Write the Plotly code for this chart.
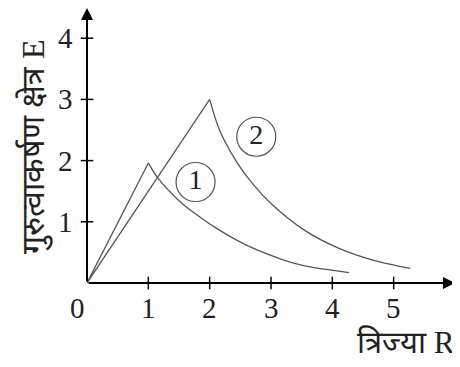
import plotly.graph_objects as go

# curve 1: rise then fall
r1_rise = [0, 1.0]
e1_rise = [0, 1.96]
r1_fall = [1.0, 1.16, 1.55, 1.88, 2.1, 2.44, 2.66, 3.0, 3.22, 3.55, 4.27]
e1_fall = [1.96, 1.71, 1.30, 1.05, 0.90, 0.70, 0.59, 0.45, 0.37, 0.28, 0.17]

# curve 2: rise then fall
r2_rise = [0, 2.0]
e2_rise = [0, 3.0]
r2_fall = [2.0, 2.16, 2.44, 2.72, 3.0, 3.55, 4.1, 4.66, 5.27]
e2_fall = [3.0, 2.5, 1.98, 1.6, 1.3, 0.86, 0.57, 0.375, 0.24]

tick_vals = [1, 2, 3, 4, 5]
ytick_vals = [1, 2, 3, 4]
label_pos = {"1": (1.77, 1.65), "2": (2.76, 2.39)}

LINE = "#555555"
TXT = "#222222"
SERIF = "Liberation Serif, Times New Roman, serif"

# the html page has an 8px body margin, so the figure is laid out 8px smaller
OFF = 8
W, H = 460 - OFF, 367 - OFF
L, T = 87 - OFF, 0
R, B = 13 - OFF, 84
pw, ph = W - L - R, H - T - B
X_MAX = 6.0
Y_MAX = ph / 61.2  # 61.2 px per unit


def paper_xy(px, py):
    # page pixel -> paper coords
    return (px - OFF - L) / pw, (H - B - (py - OFF)) / ph


fig = go.Figure()

for xs, ys, shape in [(r1_rise, e1_rise, "linear"), (r1_fall, e1_fall, "spline"),
                      (r2_rise, e2_rise, "linear"), (r2_fall, e2_fall, "spline")]:
    fig.add_trace(go.Scatter(x=xs, y=ys, mode="lines",
                             line=dict(color=LINE, width=1.3, shape=shape, smoothing=0.8),
                             hoverinfo="skip"))

# crossing tick marks
fig.add_trace(go.Scatter(x=tick_vals, y=[0] * len(tick_vals), mode="markers",
                         marker=dict(symbol="line-ns", size=9,
                                     line=dict(color="black", width=1.5)),
                         cliponaxis=False, hoverinfo="skip"))
fig.add_trace(go.Scatter(x=[0] * len(ytick_vals), y=ytick_vals, mode="markers",
                         marker=dict(symbol="line-ew", size=9,
                                     line=dict(color="black", width=1.5)),
                         cliponaxis=False, hoverinfo="skip"))

# circled curve labels
fig.add_trace(go.Scatter(
    x=[v[0] for v in label_pos.values()], y=[v[1] for v in label_pos.values()],
    mode="markers+text", text=list(label_pos.keys()),
    textposition="middle center",
    textfont=dict(family=SERIF, size=28, color=TXT),
    marker=dict(symbol="circle-open", size=39, color="#555555",
                line=dict(width=1.2)),
    cliponaxis=False, hoverinfo="skip"))

ann = []
# axes with arrows
ann.append(dict(x=X_MAX, y=0, ax=0, ay=0, xref="x", yref="y", axref="x", ayref="y",
                showarrow=True, arrowhead=2, arrowsize=1.2, arrowwidth=2,
                arrowcolor="black", text=""))
ann.append(dict(x=0, y=Y_MAX, ax=0, ay=0, xref="x", yref="y", axref="x", ayref="y",
                showarrow=True, arrowhead=2, arrowsize=1.2, arrowwidth=2,
                arrowcolor="black", text=""))
for v in tick_vals:
    ann.append(dict(x=v, y=0, xref="x", yref="y", text=str(v), showarrow=False,
                    yanchor="top", yshift=-7,
                    font=dict(family=SERIF, size=29, color=TXT)))
for v in ytick_vals:
    ann.append(dict(x=0, y=v, xref="x", yref="y", text=str(v), showarrow=False,
                    xanchor="right", xshift=-12,
                    font=dict(family=SERIF, size=29, color=TXT)))
ann.append(dict(x=0, y=0, xref="x", yref="y", text="0", showarrow=False,
                xanchor="center", yanchor="top", xshift=-10, yshift=-7,
                font=dict(family=SERIF, size=29, color=TXT)))
px, py = paper_xy(406, 342)
ann.append(dict(x=px, y=py, xref="paper", yref="paper", text="त्रिज्या R",
                xanchor="center", yanchor="middle",
                showarrow=False, font=dict(family=SERIF, size=31, color=TXT)))
px, py = paper_xy(34, 147)
ann.append(dict(x=px, y=py, xref="paper", yref="paper", text="गुरुत्वाकर्षण क्षेत्र E",
                xanchor="center", yanchor="middle",
                showarrow=False, textangle=-90,
                font=dict(family=SERIF, size=32, color=TXT)))

fig.update_layout(
    width=W, height=H,
    margin=dict(l=L, r=R, t=T, b=B),
    paper_bgcolor="white", plot_bgcolor="white",
    showlegend=False,
    xaxis=dict(range=[0, X_MAX], visible=False),
    yaxis=dict(range=[0, Y_MAX], visible=False),
    annotations=ann,
)

fig.write_html("out.html")
